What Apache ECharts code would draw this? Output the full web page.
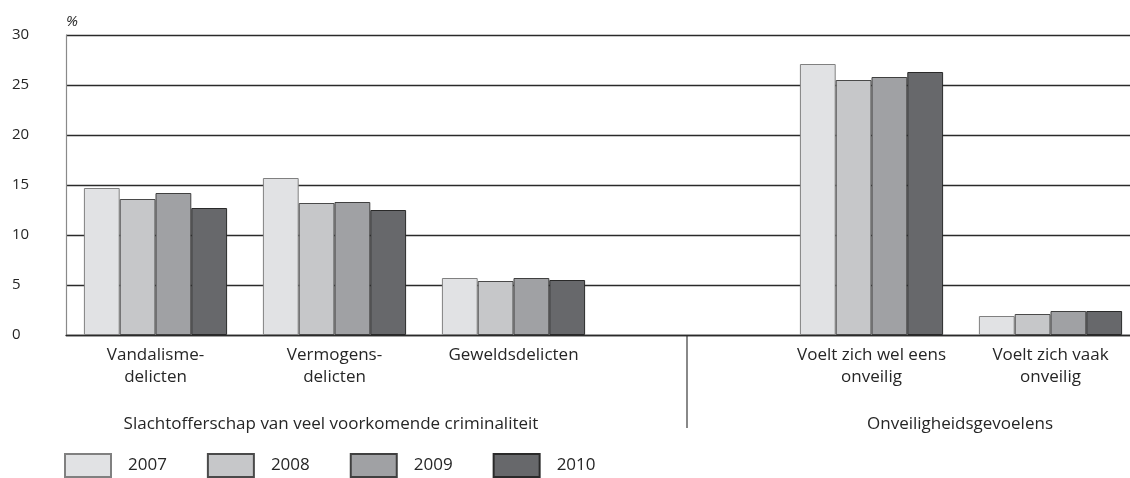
<!DOCTYPE html>
<html>
<head>
<meta charset="utf-8">
<script src="https://cdn.jsdelivr.net/npm/echarts@6/dist/echarts.min.js"></script>
<style>
  html, body { margin: 0; padding: 0; background: #fff; }
  #chart { width: 1130px; height: 478px; }
</style>
</head>
<body>
<div id="chart"></div>
<script>
// categorieën (4e plek is leeg, scheiding tussen de twee groepen)
var categories = ['Vandalisme-\ndelicten', 'Vermogens-\ndelicten', 'Geweldsdelicten', '', 'Voelt zich wel eens\nonveilig', 'Voelt zich vaak\nonveilig'];
var years = ['2007', '2008', '2009', '2010'];
var yTicks = [0, 5, 10, 15, 20, 25, 30];

// percentages per jaar
var v2007 = [14.7, 15.7, 5.7, null, 27.1, 1.9];
var v2008 = [13.6, 13.2, 5.4, null, 25.5, 2.1];
var v2009 = [14.2, 13.3, 5.7, null, 25.8, 2.4];
var v2010 = [12.7, 12.5, 5.5, null, 26.3, 2.4];

var groupLeft = 'Slachtofferschap van veel voorkomende criminaliteit';
var groupRight = 'Onveiligheidsgevoelens';

var fills = ['#e1e2e4', '#c6c7c9', '#a0a1a4', '#67686b'];
var borders = ['#808080', '#4a4a4a', '#404040', '#2a2a2a'];
var values = [v2007, v2008, v2009, v2010];

var FONT = '"Open Sans", "Noto Sans", sans-serif';
var TXT = '#262626';

var chart = echarts.init(document.getElementById('chart'));

chart.setOption({
  animation: false,
  textStyle: { fontFamily: FONT },
  // plot loopt rechts iets buiten beeld door, net als het origineel
  grid: { left: 66, top: 35, width: 1074, height: 300, outerBoundsMode: 'none' },
  legend: {
    left: 64,
    top: 453,
    padding: 0,
    itemWidth: 46,
    itemHeight: 23,
    itemGap: 40,
    icon: 'rect',
    data: years,
    textStyle: { fontFamily: FONT, fontSize: 17, color: TXT, padding: [0, 0, 0, 12] }
  },
  xAxis: {
    type: 'category',
    data: categories,
    axisLine: { show: true, lineStyle: { color: '#2a2a2a', width: 1.3 } },
    axisTick: { show: false },
    axisLabel: {
      interval: 0,
      margin: 9,
      fontFamily: FONT,
      fontSize: 17,
      lineHeight: 22,
      color: TXT,
      align: 'center'
    }
  },
  yAxis: {
    type: 'value',
    min: 0,
    max: 30,
    interval: 5,
    name: '%',
    nameLocation: 'end',
    nameGap: 6,
    nameTextStyle: { fontFamily: FONT, fontSize: 15, fontStyle: 'italic', color: TXT, align: 'left' },
    axisLine: { show: true, lineStyle: { color: '#8a8a8a', width: 1.2 } },
    axisTick: { show: false },
    splitLine: { lineStyle: { color: '#2a2a2a', width: 1.3 } },
    axisLabel: {
      align: 'left',
      margin: 54,
      fontFamily: FONT,
      fontSize: 15,
      color: TXT,
      formatter: function (v) { return yTicks.indexOf(v) >= 0 ? String(v) : ''; }
    }
  },
  series: years.map(function (y, i) {
    return {
      name: y,
      type: 'bar',
      data: values[i],
      barGap: '0%',
      barCategoryGap: '20%',
      itemStyle: { color: fills[i], borderColor: borders[i], borderWidth: 1 }
    };
  }),
  graphic: [
    {
      type: 'line',
      shape: { x1: 687, y1: 336, x2: 687, y2: 428 },
      style: { stroke: '#3a3a3a', lineWidth: 1.2 }
    },
    {
      type: 'text',
      x: 331,
      y: 424,
      style: { text: groupLeft, font: '17px ' + FONT, fill: TXT, textAlign: 'center', textVerticalAlign: 'middle' }
    },
    {
      type: 'text',
      x: 960,
      y: 424,
      style: { text: groupRight, font: '17px ' + FONT, fill: TXT, textAlign: 'center', textVerticalAlign: 'middle' }
    }
  ]
});
</script>
</body>
</html>
